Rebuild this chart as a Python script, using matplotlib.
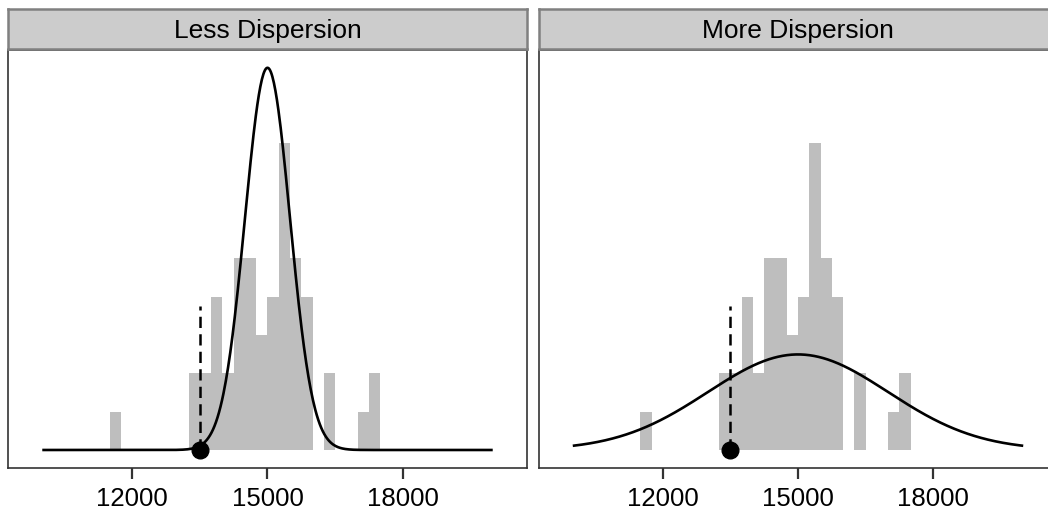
import numpy as np
import matplotlib
matplotlib.use('Agg')
import matplotlib.pyplot as plt

plt.rcParams['font.family'] = ['Liberation Sans', 'DejaVu Sans']

# histogram of the 50 observations, bins of width 250 starting at 11500
bin_start = 11500
bin_width = 250
counts = [1, 0, 0, 0, 0, 0, 0, 2, 2, 4, 2, 5, 5, 3, 4, 8, 5, 4, 0, 2, 0, 0, 1, 2]
n_obs = 50

# normal curves drawn over the histogram
panel_titles = ['Less Dispersion', 'More Dispersion']
curve_mean = 15000
curve_sd = [500, 2000]
curve_from, curve_to = 10000, 20000

# observed value marked with a dashed line and a point
obs_x = 13500
obs_line_top = 3e-4

tick_vals = [12000, 15000, 18000]
tick_labels = ['12000', '15000', '18000']

W, H = 1048, 514
fig = plt.figure(figsize=(W / 100, H / 100), dpi=100)
fig.set_facecolor('white')

edges = bin_start + bin_width * np.arange(len(counts))
dens = np.array(counts) / (n_obs * bin_width)

panel_left = [8, 538.5]
panel_w = 519
for i, title in enumerate(panel_titles):
    x0 = panel_left[i] / W
    ax = fig.add_axes([x0, 1 - 468 / H, panel_w / W, 418 / H])
    ax.bar(edges, dens, width=bin_width, align='edge', color='#bebebe', linewidth=0)

    xs = np.linspace(curve_from, curve_to, 600)
    sd = curve_sd[i]
    ys = np.exp(-0.5 * ((xs - curve_mean) / sd) ** 2) / (sd * np.sqrt(2 * np.pi))
    ax.plot(xs, ys, color='black', lw=1.9, solid_capstyle='butt')

    ax.plot([obs_x, obs_x], [0, obs_line_top], color='black', lw=1.8, dashes=(4.5, 2.5))
    ax.plot([obs_x], [0], 'o', color='black', markersize=12, zorder=5)

    ax.set_xlim(9239, 20761)
    ax.set_ylim(-3.76e-5, 8.35e-4)
    ax.set_yticks([])
    ax.set_xticks(tick_vals)
    ax.set_xticklabels(tick_labels, fontsize=18.5, color='black')
    ax.tick_params(axis='x', length=8, width=1.6, color='#333333', pad=6)
    for s in ax.spines.values():
        s.set_color('#333333')
        s.set_linewidth(1.2)

    # facet strip
    sax = fig.add_axes([x0, 1 - 49 / H, panel_w / W, 40 / H])
    sax.set_facecolor('#cccccc')
    sax.set_xticks([])
    sax.set_yticks([])
    for s in sax.spines.values():
        s.set_color('#808080')
        s.set_linewidth(1.8)
    sax.text(0.5, 0.45, title, ha='center', va='center', fontsize=19,
             color='black', transform=sax.transAxes)

fig.savefig('out.png', dpi=100, facecolor='white')
